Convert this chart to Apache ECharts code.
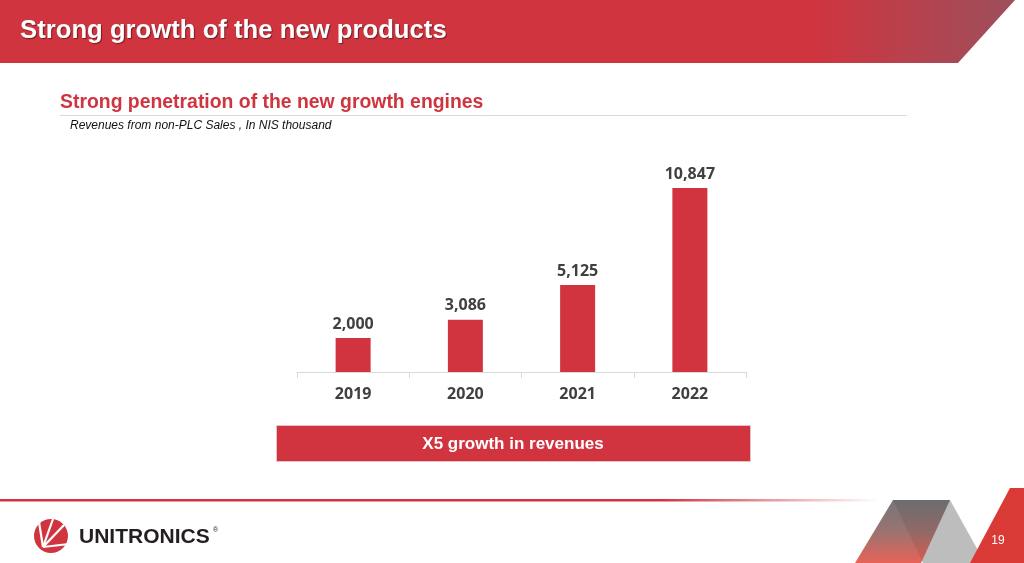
<!DOCTYPE html>
<html>
<head>
<meta charset="utf-8">
<script src="https://cdn.jsdelivr.net/npm/echarts@6/dist/echarts.min.js"></script>
<style>
html,body{margin:0;padding:0;background:#fff;}
#chart{width:1024px;height:563px;}
</style>
</head>
<body>
<div id="chart"></div>
<script>
// ---- data ----
var categories = ['2019', '2020', '2021', '2022'];
var revenues = [2000, 3086, 5125, 10847];
var pageTitle = 'Strong growth of the new products';
var sectionTitle = 'Strong penetration of the new growth engines';
var note = 'Revenues from non-PLC Sales , In NIS thousand';
var calloutText = 'X5 growth in revenues';
var pageNumber = '19';

var RED = '#d2343f';
var chart = echarts.init(document.getElementById('chart'), null, {renderer: 'canvas'});

function logoLine(x2, y2) {
  return {type: 'line', z: 5, shape: {x1: 43, y1: 547, x2: x2, y2: y2}, style: {stroke: '#fff', lineWidth: 2.2}};
}

var option = {
  backgroundColor: '#ffffff',
  animation: false,
  grid: {left: 297, right: 278, top: 188, bottom: 191},
  xAxis: {
    type: 'category',
    data: categories,
    axisLine: {lineStyle: {color: '#d9d9d9', width: 1}},
    axisTick: {show: true, alignWithLabel: false, length: 6, lineStyle: {color: '#d9d9d9'}},
    axisLabel: {
      margin: 14,
      color: '#404040',
      fontFamily: 'Open Sans',
      fontWeight: 'bold',
      fontSize: 16
    }
  },
  yAxis: {
    type: 'value',
    min: 0,
    max: function (v) { return v.max; },
    show: false,
    splitLine: {show: false}
  },
  series: [{
    type: 'bar',
    data: revenues,
    barWidth: 35,
    itemStyle: {color: RED},
    label: {
      show: true,
      position: 'top',
      distance: 6,
      color: '#404040',
      fontFamily: 'Open Sans',
      fontWeight: 'bold',
      fontSize: 16,
      formatter: function (p) { return p.value.toLocaleString('en-US'); }
    }
  }],
  graphic: [
    // header band
    {
      type: 'polygon', z: 1,
      shape: {points: [[0, 0], [1015, 0], [958, 63], [0, 63]]},
      style: {
        fill: new echarts.graphic.LinearGradient(0, 0, 1, 0, [
          {offset: 0, color: '#d0343f'},
          {offset: 0.8, color: '#d0343f'},
          {offset: 1, color: '#9c505c'}
        ])
      }
    },
    {
      type: 'text', z: 2, x: 20, y: 31,
      style: {
        text: pageTitle, fill: '#ffffff', verticalAlign: 'middle',
        font: 'bold 25.7px "Liberation Sans", Arial, sans-serif',
        textShadowColor: 'rgba(0,0,0,0.45)', textShadowOffsetX: 1, textShadowOffsetY: 1, textShadowBlur: 1
      }
    },
    // section title
    {
      type: 'text', z: 2, x: 60, y: 103,
      style: {text: sectionTitle, fill: '#d0343f', verticalAlign: 'middle', font: 'bold 19.4px "Liberation Sans", Arial, sans-serif'}
    },
    {
      type: 'line', z: 2,
      shape: {x1: 60, y1: 115.5, x2: 907, y2: 115.5},
      style: {stroke: '#dcd6d6', lineWidth: 1}
    },
    {
      type: 'text', z: 2, x: 70, y: 126,
      style: {text: note, fill: '#111111', verticalAlign: 'middle', font: 'italic 12px "Liberation Sans", Arial, sans-serif'}
    },
    // callout box
    {
      type: 'rect', z: 2,
      shape: {x: 276.5, y: 425.5, width: 474, height: 36},
      style: {fill: RED, stroke: '#e4c3c6', lineWidth: 1}
    },
    {
      type: 'text', z: 3, x: 513, y: 444,
      style: {
        text: calloutText, fill: '#ffffff', align: 'center', verticalAlign: 'middle',
        font: 'bold 17px "Liberation Sans", Arial, sans-serif'
      }
    },
    // footer line
    {
      type: 'rect', z: 1,
      shape: {x: 0, y: 499, width: 880, height: 2.5},
      style: {
        fill: new echarts.graphic.LinearGradient(0, 0, 1, 0, [
          {offset: 0, color: '#d0343f'},
          {offset: 0.75, color: '#d0343f'},
          {offset: 1, color: 'rgba(208,52,63,0)'}
        ])
      }
    },
    // footer decorations
    {
      type: 'polygon', z: 1,
      shape: {points: [[893, 500], [950, 500], [985, 563], [923, 563]]},
      style: {fill: '#bdbdbd'}
    },
    {
      type: 'polygon', z: 2,
      shape: {points: [[893, 500], [950, 500], [921, 563], [855, 563]]},
      style: {
        opacity: 0.85,
        fill: new echarts.graphic.LinearGradient(0, 0, 0, 1, [
          {offset: 0, color: '#5e5e62'},
          {offset: 0.5, color: '#8a5a58'},
          {offset: 1, color: '#e2483a'}
        ])
      }
    },
    {
      type: 'polygon', z: 3,
      shape: {points: [[1010, 488], [1024, 488], [1024, 563], [970, 563]]},
      style: {fill: '#da3a35'}
    },
    {
      type: 'text', z: 4, x: 998, y: 541,
      style: {text: pageNumber, fill: '#ffffff', align: 'center', verticalAlign: 'middle',
        font: '12px "Liberation Sans", Arial, sans-serif'}
    },
    // logo
    {
      type: 'circle', z: 2,
      shape: {cx: 51, cy: 536, r: 17},
      style: {fill: '#d0343f'}
    },
    logoLine(39, 522),
    logoLine(53, 519),
    logoLine(64, 525),
    logoLine(69, 544),
    {
      type: 'text', z: 3, x: 79, y: 537,
      style: {text: 'UNITRONICS', fill: '#231f20', verticalAlign: 'middle', font: 'bold 21px "Liberation Sans", Arial, sans-serif'}
    },
    {
      type: 'text', z: 3, x: 213, y: 530,
      style: {text: '®', fill: '#231f20', verticalAlign: 'middle', font: '7px "Liberation Sans", Arial, sans-serif'}
    }
  ]
};
chart.setOption(option);
</script>
</body>
</html>
